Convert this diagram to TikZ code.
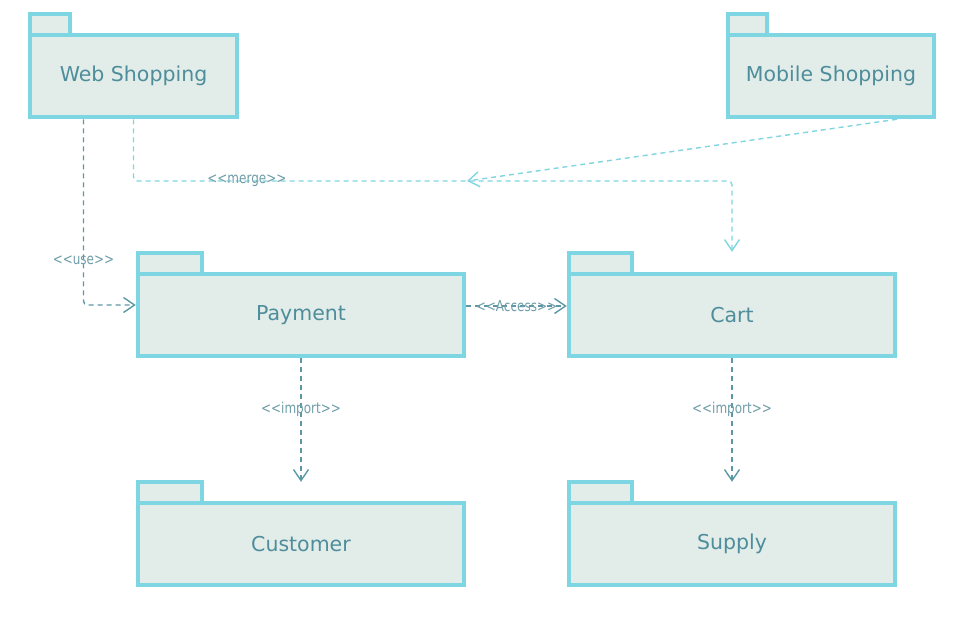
\documentclass[tikz,border=0pt]{standalone}
\usepackage{fontspec}
\setmainfont{DejaVu Sans}
\newfontfamily\labelfont[FakeStretch=0.8,Ligatures=TeXOff]{DejaVu Sans}
\usetikzlibrary{arrows.meta}
\definecolor{pkgline}{HTML}{7ED6E2}
\definecolor{pkgfill}{HTML}{E2ECE8}
\definecolor{pkgtext}{HTML}{4E8D9B}
\definecolor{depdark}{HTML}{5C98A4}
\definecolor{deplight}{HTML}{80D5E1}
\definecolor{labeltext}{HTML}{6E9DA8}

\begin{document}
\begin{tikzpicture}[x=1pt,y=-1pt,
  pkg/.style={draw=pkgline,fill=pkgfill,line width=4.5pt,text=pkgtext,
    font=\fontsize{20.5}{24}\selectfont,minimum height=82pt,inner sep=0pt},
  pkgtab/.style={draw=pkgline,fill=pkgfill,line width=4.5pt},
  dep/.style={dash pattern=on 5pt off 4pt,line width=1.4pt,rounded corners=4pt,
    -{Straight Barb[length=11pt,width=15pt,line width=1.4pt]}},
  deplabel/.style={text=labeltext,font=\labelfont\fontsize{15}{17}\selectfont,inner sep=1pt}]
  \useasboundingbox (0,0) rectangle (972,622);

  % packages
  \node (web) [pkg,minimum width=207pt] at (133.5,76) {Web Shopping};
  \draw[pkgtab] (web.north west) ++(2,2) rectangle ++(40,-21);
  \node (mobile) [pkg,minimum width=206pt] at (831,76) {Mobile Shopping};
  \draw[pkgtab] (mobile.north west) ++(2,2) rectangle ++(39,-21);
  \node (payment) [pkg,minimum width=326pt] at (301,315) {Payment};
  \draw[pkgtab] (payment.north west) ++(2,2) rectangle ++(64,-21);
  \node (cart) [pkg,minimum width=326pt] at (732,315) {Cart};
  \draw[pkgtab] (cart.north west) ++(2,2) rectangle ++(63,-21);
  \node (customer) [pkg,minimum width=326pt] at (301,544) {Customer};
  \draw[pkgtab] (customer.north west) ++(2,2) rectangle ++(64,-21);
  \node (supply) [pkg,minimum width=326pt] at (732,544) {Supply};
  \draw[pkgtab] (supply.north west) ++(2,2) rectangle ++(63,-21);

  % dependencies
  \coordinate (mergept) at (467,181);
  \draw[dep,depdark] ([xshift=-50pt]web.south) |- ([yshift=10pt]payment.west)
    node[deplabel,pos=0.38] {<<use>>};
  \draw[dep,deplight] (web.south) |- node[deplabel,pos=0.67] {<<merge>>} (mergept)
    -| ([yshift=20pt]cart.north);
  \draw[dep,deplight] ([xshift=66pt]mobile.south) -- (mergept);
  \draw[dep,depdark] ([yshift=9pt]payment.east) -- ([yshift=9pt]cart.west)
    node[deplabel,midway] {<<Access>>};
  \draw[dep,depdark] (payment.south) -- ([yshift=19pt]customer.north)
    node[deplabel,pos=0.41] {<<import>>};
  \draw[dep,depdark] (cart.south) -- ([yshift=19pt]supply.north)
    node[deplabel,pos=0.41] {<<import>>};
\end{tikzpicture}
\end{document}
